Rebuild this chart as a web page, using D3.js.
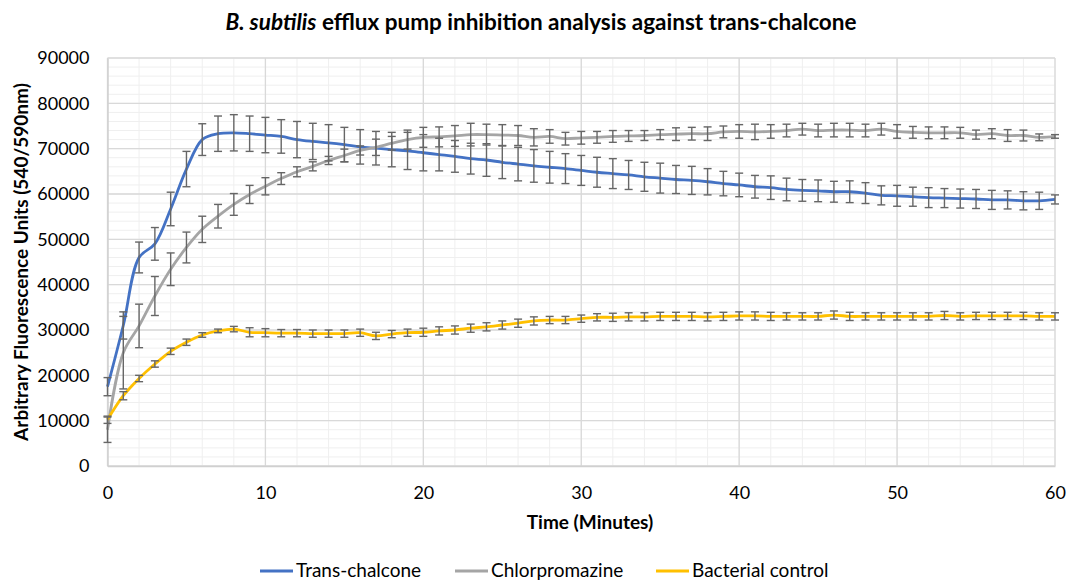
<!DOCTYPE html>
<html>
<head>
<meta charset="utf-8">
<script src="https://d3js.org/d3.v7.min.js"></script>
<style>
  body { margin: 0; background: #fff; }
  text { font-family: Lato, "Open Sans", sans-serif; fill: #000; }
</style>
</head>
<body>
<svg id="chart" width="1068" height="582"></svg>
<script>
// minutes 0..60
var minutes = d3.range(0, 61);

var transChalcone = [17500, 31000, 46000, 49000, 56700, 65500, 72000, 73300, 73500, 73300,
  73000, 72700, 72000, 71600, 71300, 70900, 70400, 70100, 69800, 69500,
  69100, 68700, 68300, 67800, 67500, 67000, 66600, 66200, 65900, 65600,
  65200, 64800, 64500, 64200, 63800, 63500, 63200, 63000, 62700, 62300,
  62000, 61600, 61400, 61000, 60800, 60700, 60500, 60500, 60200, 59700,
  59600, 59400, 59200, 59100, 59000, 58900, 58700, 58700, 58500, 58500, 58800];
var transChalconeErr = [2000, 3000, 3400, 3600, 3700, 3900, 3500, 3900, 4000, 3900,
  3900, 3700, 4000, 4000, 4000, 3800, 3800, 3700, 3800, 4100,
  4000, 3600, 3500, 3400, 3600, 3600, 3700, 3600, 3500, 3300,
  3300, 3300, 3300, 3200, 3200, 3300, 3100, 3100, 2900, 2700,
  2600, 2500, 2600, 2500, 2400, 2400, 2300, 2400, 2300, 2100,
  2300, 2100, 2200, 2100, 2100, 2100, 2100, 2000, 2000, 1900, 1000];

var chlorpromazine = [8000, 25000, 30900, 37500, 43400, 48200, 52200, 55100, 57700, 59900,
  61700, 63400, 64900, 66100, 67400, 68500, 69600, 70300, 71200, 72000,
  72500, 72600, 72800, 73100, 73100, 73000, 72900, 72500, 72700, 72200,
  72400, 72500, 72700, 72800, 72900, 73100, 73200, 73300, 73300, 73700,
  73800, 73700, 73800, 74000, 74300, 74000, 74100, 74100, 74000, 74300,
  73800, 73600, 73500, 73500, 73500, 73100, 73300, 72900, 72900, 72500, 72700];
var chlorpromazineErr = [2800, 8000, 4800, 4300, 3600, 3400, 2900, 2600, 2400, 2000,
  1900, 1300, 1100, 1000, 900, 1400, 1000, 1800, 1500, 2100,
  2200, 2200, 2300, 2500, 2300, 2300, 2200, 1900, 1500, 1400,
  1400, 1300, 1300, 1200, 1100, 1100, 1400, 1400, 1500, 1300,
  1500, 1700, 1500, 1400, 1300, 1400, 1500, 1500, 1400, 1300,
  1500, 1300, 1300, 1300, 1200, 1000, 1100, 1300, 1200, 750, 400];

var bacterialControl = [10200, 15500, 19300, 22500, 25300, 27300, 28900, 29800, 30200, 29500,
  29400, 29300, 29300, 29200, 29200, 29200, 29400, 28700, 29100, 29400,
  29500, 29800, 30000, 30400, 30700, 31100, 31500, 32000, 32200, 32200,
  32500, 32800, 32800, 32900, 32900, 33000, 33000, 33000, 32900, 33000,
  33100, 33100, 33000, 33000, 33000, 33000, 33300, 33000, 33000, 33000,
  33000, 33000, 33000, 33200, 33000, 33100, 33100, 33100, 33100, 33000, 33000];
var bacterialControlErr = [800, 900, 700, 700, 700, 700, 500, 400, 600, 1000,
  900, 800, 800, 800, 800, 800, 800, 800, 800, 800,
  900, 900, 900, 900, 900, 900, 900, 900, 800, 800,
  800, 800, 900, 900, 900, 900, 900, 900, 900, 900,
  900, 900, 900, 800, 800, 800, 900, 900, 800, 800,
  800, 800, 800, 900, 800, 800, 800, 800, 800, 800, 800];

var seriesNames = ["Trans-chalcone", "Chlorpromazine", "Bacterial control"];
var xTicks = [0, 10, 20, 30, 40, 50, 60];
var yTicks = d3.range(0, 90001, 10000);

var series = [
  { name: seriesNames[0], values: transChalcone, err: transChalconeErr, color: "#4472C4" },
  { name: seriesNames[1], values: chlorpromazine, err: chlorpromazineErr, color: "#A5A5A5" },
  { name: seriesNames[2], values: bacterialControl, err: bacterialControlErr, color: "#FFC000" }
];

var svg = d3.select("#chart");
var x = d3.scaleLinear().domain([0, 60]).range([107.5, 1055]);
var y = d3.scaleLinear().domain([0, 90000]).range([466, 58]);

// minor grid
var grid = svg.append("g");
grid.selectAll(".vminor").data(d3.range(0, 61, 2)).enter().append("line")
  .attr("x1", d => x(d)).attr("x2", d => x(d))
  .attr("y1", y(0)).attr("y2", y(90000))
  .attr("stroke", "#efefef").attr("stroke-width", 1);
grid.selectAll(".hminor").data(d3.range(0, 90001, 2000)).enter().append("line")
  .attr("x1", x(0)).attr("x2", x(60))
  .attr("y1", d => y(d)).attr("y2", d => y(d))
  .attr("stroke", "#efefef").attr("stroke-width", 1);
// major grid
grid.selectAll(".vmajor").data(xTicks).enter().append("line")
  .attr("x1", d => x(d)).attr("x2", d => x(d))
  .attr("y1", y(0)).attr("y2", y(90000))
  .attr("stroke", "#d9d9d9").attr("stroke-width", 1.3);
grid.selectAll(".hmajor").data(yTicks).enter().append("line")
  .attr("x1", x(0)).attr("x2", x(60))
  .attr("y1", d => y(d)).attr("y2", d => y(d))
  .attr("stroke", "#d9d9d9").attr("stroke-width", 1.3);

// axes (labels only, Excel style)
var xAxis = svg.append("g").attr("transform", "translate(0," + y(0) + ")")
  .call(d3.axisBottom(x).tickValues(xTicks).tickSize(0).tickPadding(20));
var yAxis = svg.append("g").attr("transform", "translate(" + x(0) + ",0)")
  .call(d3.axisLeft(y).tickValues(yTicks).tickSize(0).tickPadding(18).tickFormat(d3.format("d")));
[xAxis, yAxis].forEach(function(a) {
  a.select(".domain").attr("stroke", "#d0d0d0").attr("stroke-width", 1.5);
  a.selectAll("text").style("font-family", "Lato, 'Open Sans', sans-serif")
    .style("font-size", "18px").attr("fill", "#111");
});

// lines
var line = d3.line().x((d, i) => x(minutes[i])).y(d => y(d)).curve(d3.curveCatmullRom.alpha(0.5));
series.forEach(function(s) {
  svg.append("path").datum(s.values)
    .attr("fill", "none").attr("stroke", s.color).attr("stroke-width", 2.8)
    .attr("d", line);
});

// error bars
series.forEach(function(s) {
  var g = svg.append("g");
  g.selectAll("line.v").data(s.values).enter().append("line")
    .attr("x1", (d, i) => x(minutes[i])).attr("x2", (d, i) => x(minutes[i]))
    .attr("y1", (d, i) => y(d - s.err[i])).attr("y2", (d, i) => y(d + s.err[i]))
    .attr("stroke", "#666").attr("stroke-width", 1.4);
  ["-", "+"].forEach(function(sign) {
    g.selectAll("line.c" + (sign == "-" ? "lo" : "hi")).data(s.values).enter().append("line")
      .attr("x1", (d, i) => x(minutes[i]) - 4).attr("x2", (d, i) => x(minutes[i]) + 4)
      .attr("y1", (d, i) => y(sign == "-" ? d - s.err[i] : d + s.err[i]))
      .attr("y2", (d, i) => y(sign == "-" ? d - s.err[i] : d + s.err[i]))
      .attr("stroke", "#666").attr("stroke-width", 1.4);
  });
});

// title
var title = svg.append("text").attr("x", 541).attr("y", 30).attr("text-anchor", "middle")
  .style("font-size", "22.5px").style("font-weight", "bold");
title.append("tspan").style("font-style", "italic").text("B. subtilis");
title.append("tspan").text(" efflux pump inhibition analysis against trans-chalcone");

// axis titles
svg.append("text").attr("x", 590).attr("y", 529).attr("text-anchor", "middle")
  .style("font-size", "19px").style("font-weight", "bold").text("Time (Minutes)");
svg.append("text").attr("transform", "translate(28,262) rotate(-90)").attr("text-anchor", "middle")
  .style("font-size", "19px").style("font-weight", "bold").text("Arbitrary Fluorescence Units (540/590nm)");

// legend
var legendX = [260, 455, 656];
series.forEach(function(s, i) {
  svg.append("line").attr("x1", legendX[i]).attr("x2", legendX[i] + 33)
    .attr("y1", 571).attr("y2", 571).attr("stroke", s.color).attr("stroke-width", 2.8);
  svg.append("text").attr("x", legendX[i] + 36).attr("y", 577)
    .style("font-size", "19px").attr("fill", "#111").text(s.name);
});
</script>
</body>
</html>
